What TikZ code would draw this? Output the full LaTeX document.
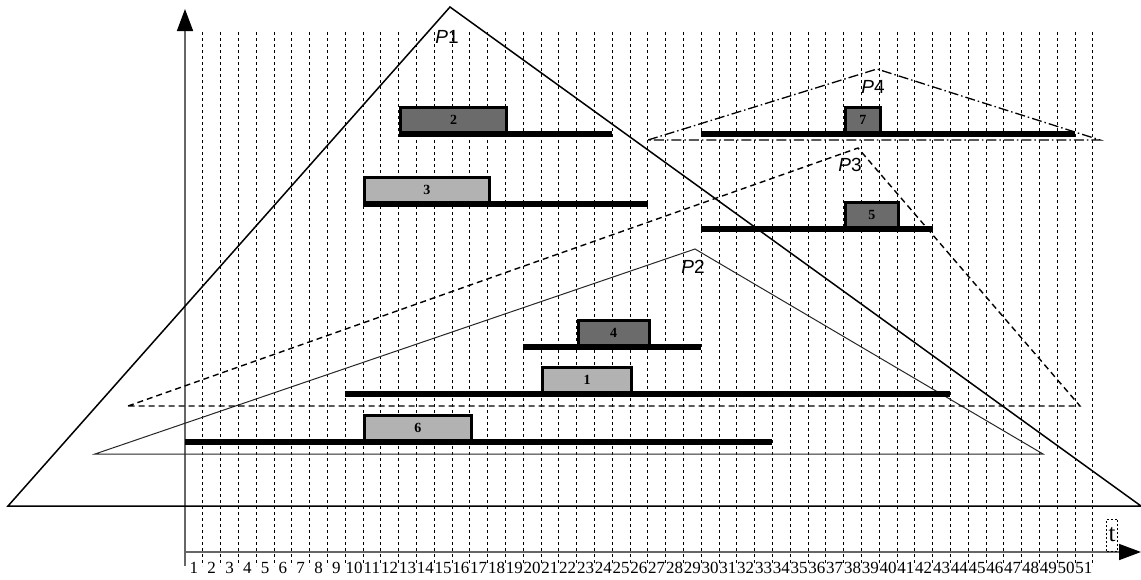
\documentclass[tikz,border=0pt]{standalone}
\usepackage{fontspec}
\setmainfont{Liberation Serif}
\newfontfamily\plabelfont{Liberation Sans}
\usetikzlibrary{arrows.meta}
\colorlet{darkjob}{black!58}
\colorlet{lightjob}{black!30}

\tikzset{
  gridline/.style={line width=0.9pt, dash pattern=on 3pt off 3pt},
  axis/.style={line width=1.6pt, black!60, -{Triangle[length=22pt,width=16pt,black]}},
  bar/.style={line width=5.5pt},
  jobbox/.style={draw, line width=3pt, inner sep=0, anchor=south west,
    minimum height=25pt, font=\fontsize{14}{14}\selectfont\bfseries},
  ticklabel/.style={inner sep=0, font=\fontsize{17}{17}\selectfont},
  plabel/.style={inner sep=0, font=\fontsize{19}{19}\selectfont\plabelfont}
}
% y of bar, bar from, bar to, box from, box to, colour, number
\newcommand{\drawjob}[7]{
  \draw[bar] ({185+17.8*#2},#1) -- ({185+17.8*#3},#1);
  \node[jobbox, fill=#6, minimum width={17.8*(#5-#4)}] (job#7) at ({185+17.8*#4},#1) {#7};
}

\begin{document}
\begin{tikzpicture}[x=1pt,y=-1pt]
\useasboundingbox (0,0) rectangle (1141,579);
% time grid
\foreach \k in {1,...,51}{
  \draw[gridline] ({185+17.8*\k},32) -- ({185+17.8*\k},566);
  \node[ticklabel] (t\k) at ({185+17.8*(\k-0.5)},568) {\k};
}
% axes
\coordinate (origin) at (185,552);
\coordinate (ytop) at (185,9);
\coordinate (xend) at (1141,552);
\draw[axis] (185,566) -- (ytop);
\draw[axis] (origin) -- (xend);
\node[draw, dash pattern=on 2pt off 2pt, inner sep=0, minimum width=11pt, minimum height=32pt,
  font=\fontsize{25}{25}\selectfont] (tlabel) at (1112,535) {t};
% P1
\draw[line width=1.5pt] (8,506) -- (450,7) -- (1141,506) -- cycle;
\node[plabel] (p1) at (447,37) {\itshape P\upshape1};
% P2
\draw[line width=1pt, black!85] (95,454) -- (695,249) -- (1043,454) -- cycle;
\node[plabel] (p2) at (693,267) {\itshape P\upshape2};
% P3
\draw[line width=1.4pt, dash pattern=on 6pt off 4pt] (128,406) -- (858,148) -- (1080,406) -- cycle;
\node[plabel] (p3) at (850,165) {\itshape P\upshape3};
% P4
\draw[line width=1.3pt, dash pattern=on 10pt off 3pt on 1.5pt off 3pt] (648,140) -- (877,69) -- (1100,140) -- cycle;
\node[plabel] (p4) at (873,87) {\itshape P\upshape4};
% jobs
\drawjob{134}{12}{24}{12}{18}{darkjob}{2}
\drawjob{204}{10}{26}{10}{17}{lightjob}{3}
\drawjob{134}{29}{50}{37}{39}{darkjob}{7}
\drawjob{229}{29}{42}{37}{40}{darkjob}{5}
\drawjob{347}{19}{29}{22}{26}{darkjob}{4}
\drawjob{394}{9}{43}{20}{25}{lightjob}{1}
\drawjob{442}{0}{33}{10}{16}{lightjob}{6}
\end{tikzpicture}
\end{document}
